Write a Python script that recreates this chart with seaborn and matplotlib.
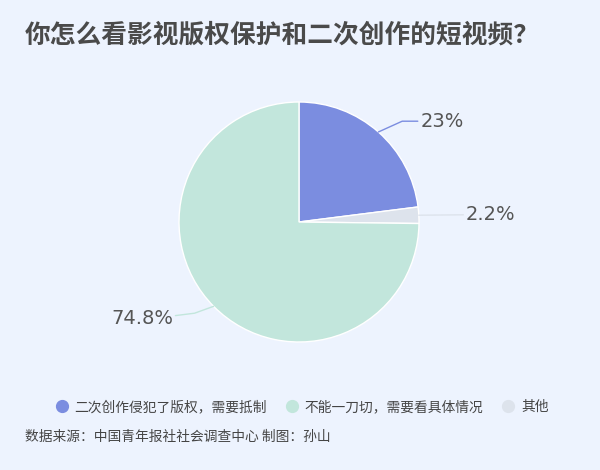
import numpy as np
import pandas as pd
import seaborn as sns
import matplotlib.pyplot as plt
from matplotlib.lines import Line2D

sns.set_theme(style='white')
plt.rcParams['font.family'] = ['Noto Sans CJK SC', 'DejaVu Sans']

# data
categories = ['二次创作侵犯了版权，需要抵制', '不能一刀切，需要看具体情况', '其他']
shares = [23, 74.8, 2.2]
labels = ['23%', '74.8%', '2.2%']
colors = ['#7b8de0', '#c2e6dc', '#dde3ec']

# pie order: blue, gray, mint (clockwise from top)
order = [0, 2, 1]

bg = '#edf3fe'
fig = plt.figure(figsize=(6, 4.7), dpi=100, facecolor=bg)

ax = fig.add_axes([(299 - 120) / 600, (470 - 342) / 470, 240 / 600, 240 / 470])
ax.set_facecolor(bg)
wedges, _ = ax.pie([shares[i] for i in order], colors=[colors[i] for i in order],
                   startangle=90, counterclock=False, radius=1,
                   wedgeprops={'linewidth': 1, 'edgecolor': 'white'})
ax.set_xlim(-1, 1)
ax.set_ylim(-1, 1)
ax.set_aspect('equal')
ax.axis('off')

# leader lines and labels
for w, i in zip(wedges, order):
    ang = np.deg2rad((w.theta1 + w.theta2) / 2)
    x0, y0 = np.cos(ang), np.sin(ang)
    if i == 0:
        pts = [(x0, y0), (0.86, 0.84), (0.99, 0.84)]
        tx, ty, ha = 1.01, 0.84, 'left'
    elif i == 2:
        pts = [(x0, y0), (1.37, 0.06)]
        tx, ty, ha = 1.39, 0.06, 'left'
    else:
        pts = [(x0, y0), (-0.87, -0.76), (-1.03, -0.78)]
        tx, ty, ha = -1.05, -0.80, 'right'
    xs, ys = zip(*pts)
    ax.plot(xs, ys, color=colors[i], lw=1, clip_on=False)
    ax.text(tx, ty, labels[i], ha=ha, va='center', fontsize=14,
            color='#555555', family=['DejaVu Sans'])

fig.text(25 / 600, 1 - 35 / 470, '你怎么看影视版权保护和二次创作的短视频？',
         fontsize=18.5, fontweight='bold', color='#4a4a4a', va='center')

handles = [Line2D([], [], marker='o', linestyle='', markersize=8.5,
                  markerfacecolor=c, markeredgecolor=c) for c in colors]
fig.legend(handles, categories, loc='center', bbox_to_anchor=(0.503, 1 - 407 / 470),
           ncol=3, frameon=False, fontsize=9.9, labelcolor='#444444',
           handletextpad=0.45, columnspacing=1.3, handlelength=1.0)

fig.text(25 / 600, 1 - 437 / 470, '数据来源：中国青年报社社会调查中心 制图：孙山',
         fontsize=9.9, color='#444444', va='center')

fig.savefig('out.png', dpi=100, facecolor=bg)
